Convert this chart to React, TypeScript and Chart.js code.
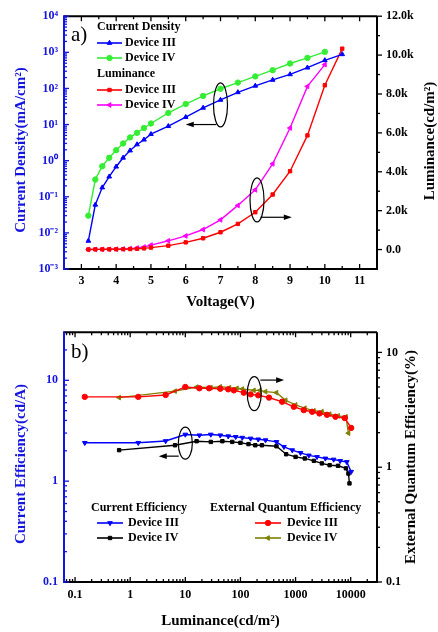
import React, { useEffect, useRef } from "react";
import { Chart, registerables } from "chart.js";
import { drawPoint } from "chart.js/helpers";
Chart.register(...registerables);

const FONT = '"Liberation Serif", "Times New Roman", Times, serif';
const AXIS_BLUE = "#1515e0";
const BLUE = "#0000ff";
const GREEN = "#33ee33";
const RED = "#ff0000";
const MAGENTA = "#ff00ff";
const OLIVE = "#808000";
const BLACK = "#000000";
const MARKER = 2.7;

// ---------- Panel a: J-V-L ----------
const voltageIII = [3.2, 3.4, 3.6, 3.8, 4.0, 4.2, 4.4, 4.6, 4.8, 5.0, 5.5, 6.0, 6.5, 7.0, 7.5, 8.0, 8.5, 9.0, 9.5, 10.0, 10.5];
const voltageIV = [3.2, 3.4, 3.6, 3.8, 4.0, 4.2, 4.4, 4.6, 4.8, 5.0, 5.5, 6.0, 6.5, 7.0, 7.5, 8.0, 8.5, 9.0, 9.5, 10.0];
const currentDensityIII = [0.006, 0.06, 0.18, 0.36, 0.68, 1.2, 1.9, 2.8, 3.8, 5.4, 9, 16, 29, 48, 78, 118, 172, 245, 375, 600, 880];
const currentDensityIV = [0.03, 0.3, 0.7, 1.2, 1.95, 3.0, 4.4, 5.9, 8.0, 10.7, 21, 37, 62, 98, 145, 215, 320, 490, 700, 1030];
const luminanceIII = [5, 8, 10, 12, 15, 20, 28, 40, 60, 100, 200, 370, 580, 890, 1320, 1920, 2830, 4030, 5870, 8450, 10330];
const luminanceIV = [5, 8, 10, 14, 20, 30, 45, 80, 130, 230, 450, 700, 1030, 1530, 2270, 3070, 4410, 6250, 8390, 9510];

const voltageTicks = [3, 4, 5, 6, 7, 8, 9, 10, 11];
const voltageMinorTicks = [3.5, 4.5, 5.5, 6.5, 7.5, 8.5, 9.5, 10.5];
const densityTicks = [1e-3, 1e-2, 1e-1, 1, 10, 100, 1000, 10000];
const lumTicksA = [0, 2000, 4000, 6000, 8000, 10000, 12000];
const lumMinorTicksA = [1000, 3000, 5000, 7000, 9000, 11000];

// ---------- Panel b: efficiencies ----------
const lumCE_III = [0.15, 1.4, 4.4, 10, 18, 29, 43, 60, 82, 108, 153, 210, 285, 450, 615, 870, 1230, 1740, 2450, 3470, 4900, 6450, 8500, 10200];
const ceIII = [2.4, 2.4, 2.5, 2.9, 2.85, 2.9, 2.85, 2.79, 2.75, 2.7, 2.65, 2.6, 2.55, 2.45, 2.19, 2.03, 1.91, 1.8, 1.74, 1.68, 1.64, 1.59, 1.55, 1.24];
const lumCE_IV = [0.63, 6.5, 16, 29, 47, 71, 100, 140, 186, 245, 450, 675, 1000, 1470, 2150, 3000, 4150, 5900, 8200, 9100, 9500];
const ceIV = [2.03, 2.27, 2.49, 2.45, 2.49, 2.45, 2.4, 2.33, 2.27, 2.27, 2.22, 1.85, 1.74, 1.68, 1.59, 1.5, 1.44, 1.42, 1.34, 1.19, 0.95];
const lumEQE_III = [0.15, 1.4, 4.4, 10, 18, 27, 43, 60, 76, 115, 153, 210, 330, 570, 930, 1410, 2000, 2710, 3720, 5300, 7800, 10200];
const eqeIII = [4.1, 4.1, 4.26, 5.0, 4.87, 4.87, 4.83, 4.77, 4.67, 4.46, 4.31, 4.23, 4.04, 3.72, 3.36, 3.14, 3.04, 2.94, 2.86, 2.75, 2.68, 2.2];
const lumEQE_IV = [0.63, 6.5, 16, 29, 43, 63, 86, 108, 175, 225, 285, 450, 660, 1000, 1470, 2150, 3000, 4150, 5900, 8200, 9100];
const eqeIV = [4.04, 4.6, 4.99, 4.93, 5.02, 4.93, 4.87, 4.8, 4.67, 4.67, 4.55, 4.46, 3.83, 3.49, 3.27, 3.1, 3.05, 2.9, 2.8, 2.75, 1.98];

const lumTicksB = [0.1, 1, 10, 100, 1000, 10000];
const effTicks = [0.1, 1, 10];

const SUP: Record<string, string> = { "-": "\u207B", "0": "\u2070", "1": "\u00B9", "2": "\u00B2", "3": "\u00B3", "4": "\u2074" };
const sup = (n: number) => String(n).split("").map((c) => SUP[c] || c).join("");

function logMinors(lo: number, hi: number, min: number, max: number) {
  const out: number[] = [];
  for (let e = lo; e <= hi; e++) for (let k = 2; k <= 9; k++) {
    const v = k * Math.pow(10, e);
    if (v > min && v < max) out.push(v);
  }
  return out;
}

function ds(label: string, xs: number[], ys: number[], color: string, style: string, rot: number, axis: string) {
  return {
    label,
    data: xs.map((x, i) => ({ x, y: ys[i] })),
    borderColor: color,
    backgroundColor: color,
    borderWidth: 1.4,
    pointStyle: style,
    pointRotation: rot,
    pointRadius: style === "rect" ? MARKER - 0.3 : MARKER,
    pointBorderWidth: 1,
    pointBackgroundColor: color,
    pointBorderColor: color,
    yAxisID: axis,
    tension: 0,
  };
}

const tickFont = { family: FONT, size: 12, weight: "bold" as const };

function seg(ctx: CanvasRenderingContext2D, x1: number, y1: number, x2: number, y2: number) {
  ctx.beginPath();
  ctx.moveTo(x1, y1);
  ctx.lineTo(x2, y2);
  ctx.stroke();
}

function drawFrame(ctx: CanvasRenderingContext2D, a: any, leftColor: string) {
  ctx.lineWidth = 2;
  ctx.strokeStyle = BLACK;
  seg(ctx, a.left, a.top, a.right, a.top);
  seg(ctx, a.right, a.top, a.right, a.bottom);
  seg(ctx, a.left - 1, a.bottom, a.right + 1, a.bottom);
  ctx.strokeStyle = leftColor;
  seg(ctx, a.left, a.top - 1, a.left, a.bottom + 1);
}

function xTicks(ctx: CanvasRenderingContext2D, chart: any, major: number[], minor: number[]) {
  const s = chart.scales.x;
  const a = chart.chartArea;
  ctx.strokeStyle = BLACK;
  ctx.lineWidth = 1.3;
  const draw = (vals: number[], len: number) =>
    vals.forEach((v) => {
      const p = s.getPixelForValue(v);
      if (p < a.left + 1 || p > a.right - 1) return;
      seg(ctx, p, a.bottom, p, a.bottom - len);
      seg(ctx, p, a.top, p, a.top + len);
    });
  draw(major, 5);
  draw(minor, 3);
}

function yTicks(ctx: CanvasRenderingContext2D, chart: any, id: string, major: number[], minor: number[], side: string, outward: boolean, color: string) {
  const s = chart.scales[id];
  const a = chart.chartArea;
  const x0 = side === "left" ? a.left : a.right;
  const dir = (side === "left" ? 1 : -1) * (outward ? -1 : 1);
  ctx.strokeStyle = color;
  ctx.lineWidth = 1.3;
  const draw = (vals: number[], len: number) =>
    vals.forEach((v) => {
      const p = s.getPixelForValue(v);
      if (p < a.top - 0.5 || p > a.bottom + 0.5) return;
      seg(ctx, x0, p, x0 + dir * len, p);
    });
  draw(major, 5);
  draw(minor, 3);
}

function label(ctx: CanvasRenderingContext2D, t: string, x: number, y: number, size: number, weight: string, color: string, align: CanvasTextAlign) {
  ctx.font = `${weight} ${size}px ${FONT}`;
  ctx.fillStyle = color;
  ctx.textAlign = align;
  ctx.textBaseline = "middle";
  ctx.fillText(t, x, y);
}

function vlabel(ctx: CanvasRenderingContext2D, t: string, x: number, y: number, size: number, color: string) {
  ctx.save();
  ctx.translate(x, y);
  ctx.rotate(-Math.PI / 2);
  label(ctx, t, 0, 0, size, "bold", color, "center");
  ctx.restore();
}

function legendRow(ctx: CanvasRenderingContext2D, x1: number, x2: number, tx: number, y: number, color: string, style: string, rot: number, t: string) {
  ctx.strokeStyle = color;
  ctx.lineWidth = 1.6;
  seg(ctx, x1, y, x2, y);
  ctx.fillStyle = color;
  ctx.lineWidth = 1;
  drawPoint(ctx, { pointStyle: style, rotation: rot, radius: style === "rect" ? MARKER - 0.3 : MARKER, borderWidth: 1 } as any, (x1 + x2) / 2, y);
  label(ctx, t, tx, y, 12, "bold", BLACK, "left");
}

function ellipse(ctx: CanvasRenderingContext2D, chart: any, x: number, y: number, axis: string, rx: number, ry: number) {
  const cx = chart.scales.x.getPixelForValue(x);
  const cy = chart.scales[axis].getPixelForValue(y);
  ctx.strokeStyle = BLACK;
  ctx.lineWidth = 1.2;
  ctx.beginPath();
  ctx.ellipse(cx, cy, rx, ry, 0, 0, Math.PI * 2);
  ctx.stroke();
}

function arrow(ctx: CanvasRenderingContext2D, chart: any, x1: number, x2: number, y: number, axis: string) {
  const p1 = chart.scales.x.getPixelForValue(x1);
  const p2 = chart.scales.x.getPixelForValue(x2);
  const py = chart.scales[axis].getPixelForValue(y);
  const d = p2 > p1 ? 1 : -1;
  ctx.strokeStyle = BLACK;
  ctx.fillStyle = BLACK;
  ctx.lineWidth = 1.2;
  seg(ctx, p1, py, p2 - d * 6, py);
  ctx.beginPath();
  ctx.moveTo(p2, py);
  ctx.lineTo(p2 - d * 8, py - 2.8);
  ctx.lineTo(p2 - d * 8, py + 2.8);
  ctx.closePath();
  ctx.fill();
}

const decorA = {
  id: "decorA",
  afterDraw(chart: any) {
    const ctx = chart.ctx as CanvasRenderingContext2D;
    const a = chart.chartArea;
    ctx.save();
    drawFrame(ctx, a, AXIS_BLUE);
    xTicks(ctx, chart, voltageTicks, voltageMinorTicks);
    yTicks(ctx, chart, "y", densityTicks, logMinors(-3, 3, 1e-3, 1e4), "left", false, AXIS_BLUE);
    yTicks(ctx, chart, "y1", lumTicksA, lumMinorTicksA, "right", true, BLACK);

    label(ctx, "a)", 71, 35, 21, "normal", BLACK, "left");
    vlabel(ctx, "Current Density(mA/cm\u00B2)", 21, 150, 15, AXIS_BLUE);
    vlabel(ctx, "Luminance(cd/m\u00B2)", 430, 141, 15, BLACK);
    label(ctx, "Voltage(V)", (a.left + a.right) / 2, 302, 15, "bold", BLACK, "center");

    label(ctx, "Current Density", 97, 27, 12, "bold", BLACK, "left");
    legendRow(ctx, 97, 122, 125, 43, BLUE, "triangle", 0, "Device III");
    legendRow(ctx, 97, 122, 125, 58, GREEN, "circle", 0, "Device IV");
    label(ctx, "Luminance", 97, 74, 12, "bold", BLACK, "left");
    legendRow(ctx, 97, 122, 125, 90, RED, "rect", 0, "Device III");
    legendRow(ctx, 97, 122, 125, 105, MAGENTA, "triangle", -90, "Device IV");

    ellipse(ctx, chart, 7.0, 35, "y", 7, 22);
    arrow(ctx, chart, 6.88, 6.0, 10, "y");
    ellipse(ctx, chart, 8.05, 2550, "y1", 7, 22);
    arrow(ctx, chart, 8.15, 9.05, 1660, "y1");
    ctx.restore();
  },
};

const decorB = {
  id: "decorB",
  afterDraw(chart: any) {
    const ctx = chart.ctx as CanvasRenderingContext2D;
    const a = chart.chartArea;
    ctx.save();
    drawFrame(ctx, a, AXIS_BLUE);
    xTicks(ctx, chart, lumTicksB, logMinors(-2, 4, 0.063, 30000));
    yTicks(ctx, chart, "y", effTicks, logMinors(-1, 1, 0.1, 30), "left", false, AXIS_BLUE);
    yTicks(ctx, chart, "y1", effTicks, logMinors(-1, 1, 0.1, 15), "right", true, BLACK);

    label(ctx, "b)", 71, 36, 21, "normal", BLACK, "left");
    vlabel(ctx, "Current Efficiency(cd/A)", 21, 148, 15, AXIS_BLUE);
    vlabel(ctx, "External Quantum Efficiency(%)", 411, 141, 15, BLACK);
    label(ctx, "Luminance(cd/m\u00B2)", (a.left + a.right) / 2, 305, 15, "bold", BLACK, "center");

    label(ctx, "Current Efficiency", 91, 192, 12, "bold", BLACK, "left");
    legendRow(ctx, 97, 123, 128, 207, BLUE, "triangle", 180, "Device III");
    legendRow(ctx, 97, 123, 128, 222, BLACK, "rect", 0, "Device IV");
    label(ctx, "External Quantum Efficiency", 210, 192, 12, "bold", BLACK, "left");
    legendRow(ctx, 255, 281, 287, 207, RED, "circle", 0, "Device III");
    legendRow(ctx, 255, 281, 287, 222, OLIVE, "triangle", -90, "Device IV");

    ellipse(ctx, chart, 10, 2.38, "y", 7, 16);
    arrow(ctx, chart, 7.6, 3.3, 1.77, "y");
    ellipse(ctx, chart, 178, 4.37, "y1", 7, 17);
    arrow(ctx, chart, 230, 620, 5.74, "y1");
    ctx.restore();
  },
};

const baseOpts = {
  animation: false as const,
  responsive: false,
  devicePixelRatio: 1,
  plugins: { legend: { display: false }, tooltip: { enabled: false }, title: { display: false } },
};

const hidden = { grid: { display: false, drawTicks: false }, border: { display: false } };

function configA(): any {
  return {
    type: "line",
    data: {
      datasets: [
        ds("Current Density Device III", voltageIII, currentDensityIII, BLUE, "triangle", 0, "y"),
        ds("Current Density Device IV", voltageIV, currentDensityIV, GREEN, "circle", 0, "y"),
        ds("Luminance Device III", voltageIII, luminanceIII, RED, "rect", 0, "y1"),
        ds("Luminance Device IV", voltageIV, luminanceIV, MAGENTA, "triangle", -90, "y1"),
      ],
    },
    options: {
      ...baseOpts,
      layout: { padding: { top: 16, left: 0, right: 0, bottom: 0 } },
      scales: {
        x: {
          type: "linear", min: 2.5, max: 11.5, ...hidden,
          afterBuildTicks: (s: any) => { s.ticks = voltageTicks.map((v) => ({ value: v })); },
          afterFit: (s: any) => { s.height = 47; },
          ticks: { font: tickFont, color: BLACK, padding: 5, maxRotation: 0, autoSkip: false },
        },
        y: {
          type: "logarithmic", position: "left", min: 1e-3, max: 1e4, ...hidden,
          afterBuildTicks: (s: any) => { s.ticks = densityTicks.map((v) => ({ value: v })); },
          afterFit: (s: any) => { s.width = 64; },
          ticks: { font: tickFont, color: AXIS_BLUE, padding: 6, autoSkip: false, callback: (v: number) => "10" + sup(Math.round(Math.log10(v))) },
        },
        y1: {
          type: "linear", position: "right", min: -1000, max: 12000, ...hidden,
          afterBuildTicks: (s: any) => { s.ticks = lumTicksA.map((v) => ({ value: v })); },
          afterFit: (s: any) => { s.width = 61; },
          ticks: { font: tickFont, color: BLACK, padding: 9, autoSkip: false, callback: (v: number) => (v === 0 ? "0.0" : (v / 1000).toFixed(1) + "k") },
        },
      },
    },
    plugins: [decorA],
  };
}

function configB(): any {
  return {
    type: "line",
    data: {
      datasets: [
        ds("CE Device III", lumCE_III, ceIII, BLUE, "triangle", 180, "y"),
        ds("CE Device IV", lumCE_IV, ceIV, BLACK, "rect", 0, "y"),
        ds("EQE Device III", lumEQE_III, eqeIII, RED, "circle", 0, "y1"),
        ds("EQE Device IV", lumEQE_IV, eqeIV, OLIVE, "triangle", -90, "y1"),
      ],
    },
    options: {
      ...baseOpts,
      layout: { padding: { top: 16, left: 0, right: 0, bottom: 0 } },
      scales: {
        x: {
          type: "logarithmic", min: 0.063, max: 30000, ...hidden,
          afterBuildTicks: (s: any) => { s.ticks = lumTicksB.map((v) => ({ value: v })); },
          afterFit: (s: any) => { s.height = 50; },
          ticks: { font: tickFont, color: BLACK, padding: 6, maxRotation: 0, autoSkip: false, callback: (v: number) => String(v) },
        },
        y: {
          type: "logarithmic", position: "left", min: 0.1, max: 30, ...hidden,
          afterBuildTicks: (s: any) => { s.ticks = effTicks.map((v) => ({ value: v })); },
          afterFit: (s: any) => { s.width = 64; },
          ticks: { font: tickFont, color: AXIS_BLUE, padding: 6, autoSkip: false, callback: (v: number) => String(v) },
        },
        y1: {
          type: "logarithmic", position: "right", min: 0.1, max: 15, ...hidden,
          afterBuildTicks: (s: any) => { s.ticks = effTicks.map((v) => ({ value: v })); },
          afterFit: (s: any) => { s.width = 61; },
          ticks: { font: tickFont, color: BLACK, padding: 9, autoSkip: false, callback: (v: number) => String(v) },
        },
      },
    },
    plugins: [decorB],
  };
}

export default function App() {
  const refA = useRef<HTMLCanvasElement>(null);
  const refB = useRef<HTMLCanvasElement>(null);
  useEffect(() => {
    const ca = new Chart(refA.current!, configA());
    const cb = new Chart(refB.current!, configB());
    return () => {
      ca.destroy();
      cb.destroy();
    };
  }, []);
  return (
    <div style={{ position: "absolute", left: 0, top: 0, width: 438, height: 632, background: "#fff" }}>
      <canvas ref={refA} width={438} height={316} style={{ position: "absolute", left: 0, top: 0, display: "block" }} />
      <canvas ref={refB} width={438} height={316} style={{ position: "absolute", left: 0, top: 316, display: "block" }} />
    </div>
  );
}
